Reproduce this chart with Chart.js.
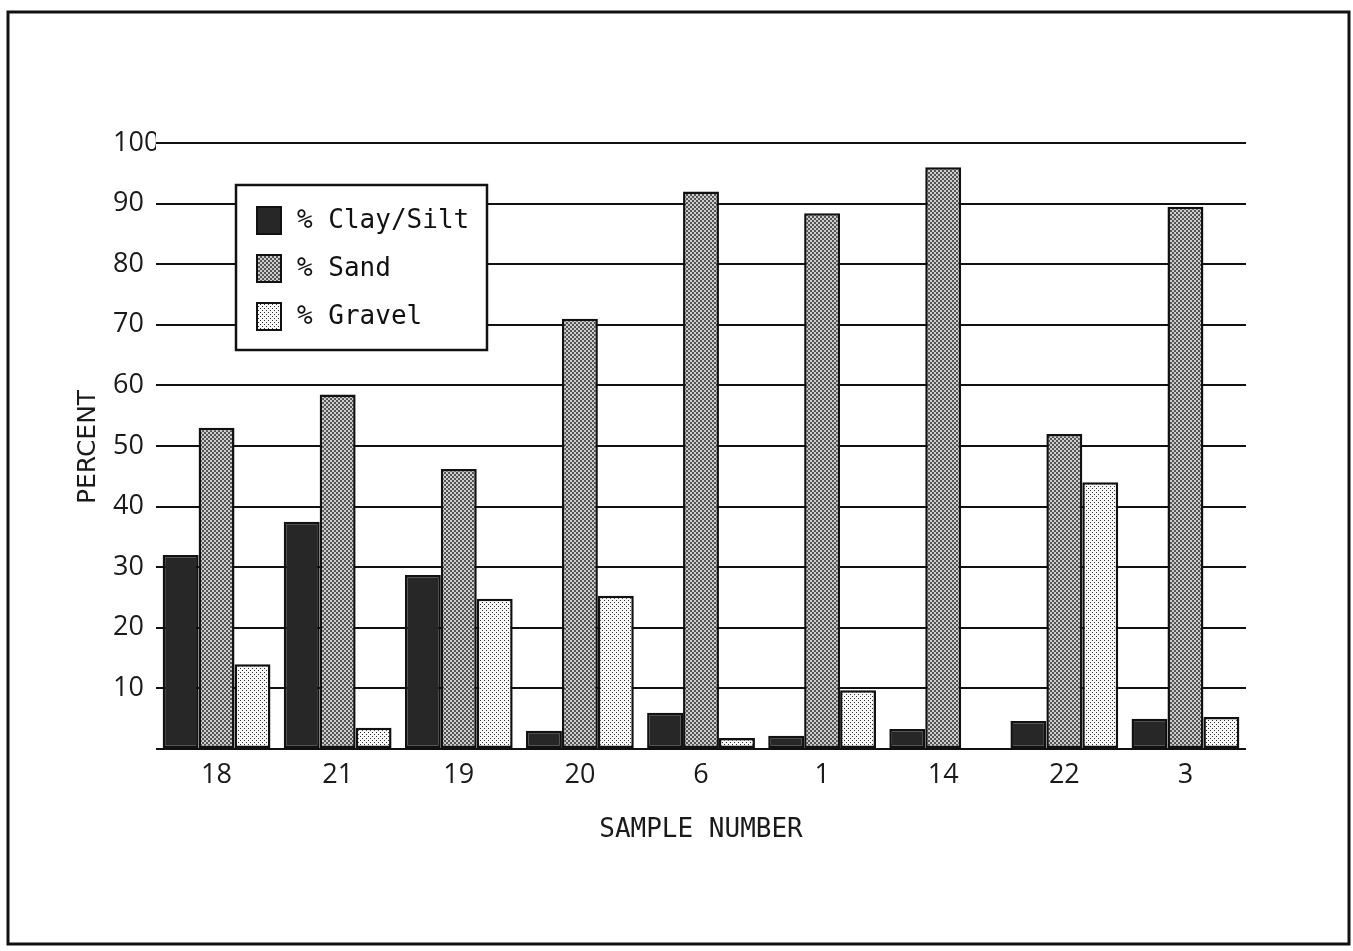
<!DOCTYPE html>
<html>
<head>
<meta charset="utf-8">
<script src="https://cdn.jsdelivr.net/npm/chart.js@4/dist/chart.umd.min.js"></script>
<style>
  body { margin: 0; background: #fff; }
  canvas { display: block; }
</style>
</head>
<body>
<canvas id="grainChart" width="1353" height="951"></canvas>
<script>
// sample numbers along the x axis
const samples = ["18", "21", "19", "20", "6", "1", "14", "22", "3"];

// percent of each fraction
const claySilt = [32, 37.5, 28.7, 3, 6, 2.2, 3.3, 4.6, 5];
const sand = [53, 58.5, 46.2, 71, 92, 88.4, 96, 52, 89.5];
const gravel = [14, 3.5, 24.8, 25.3, 1.8, 9.7, 0, 44, 5.3];

const yTicks = [0, 10, 20, 30, 40, 50, 60, 70, 80, 90, 100];

const legendLabels = ["% Clay/Silt", "% Sand", "% Gravel"];

// little tiles to mimic the screened fills of the printed figure
function makePattern(size, bg, ink, dots, dotSize) {
    const c = document.createElement("canvas");
    c.width = size;
    c.height = size;
    const g = c.getContext("2d");
    g.fillStyle = bg;
    g.fillRect(0, 0, size, size);
    g.fillStyle = ink;
    dots.forEach(d => g.fillRect(d[0], d[1], dotSize, dotSize));
    return g.createPattern(c, "repeat");
}

const ctx = document.getElementById("grainChart").getContext("2d");
const clayFill = "#272727";
const sandFill = makePattern(4, "#cdcdcd", "#555555", [[0, 0], [2, 2]], 2);
const gravelFill = makePattern(4, "#f8f8f8", "#2e2e2e", [[0, 0], [2, 2]], 1);
const fills = [clayFill, sandFill, gravelFill];

// legend box inside the plot, and the page frame and rotated y title
const extras = {
    id: "extras",
    afterDraw(chart) {
        const c = chart.ctx;
        c.save();

        // legend
        c.fillStyle = "#fff";
        c.fillRect(236, 185, 251, 165);
        c.lineWidth = 2.5;
        c.strokeStyle = "#111";
        c.strokeRect(236, 185, 251, 165);
        c.font = "26px 'DejaVu Sans Mono'";
        c.textBaseline = "middle";
        c.textAlign = "left";
        const rows = [220, 268, 316];
        legendLabels.forEach((txt, i) => {
            c.fillStyle = fills[i];
            c.fillRect(257, rows[i] - 13, 24, 27);
            c.lineWidth = 2;
            c.strokeStyle = "#111";
            c.strokeRect(257, rows[i] - 13, 24, 27);
            c.fillStyle = "#111";
            c.fillText(txt, 297, rows[i] + 1);
        });

        // y axis title
        c.translate(88, 447);
        c.rotate(-Math.PI / 2);
        c.font = "25px 'DejaVu Sans'";
        c.textAlign = "center";
        c.fillStyle = "#1a1a1a";
        c.fillText("PERCENT", 0, 0);
        c.restore();

        // scanned page frame
        c.save();
        c.lineWidth = 3;
        c.strokeStyle = "#111";
        c.strokeRect(8, 12, 1341, 932);
        c.restore();
    }
};

new Chart(ctx, {
    type: "bar",
    data: {
        labels: samples,
        datasets: [
            { label: legendLabels[0], data: claySilt, backgroundColor: clayFill },
            { label: legendLabels[1], data: sand, backgroundColor: sandFill },
            { label: legendLabels[2], data: gravel, backgroundColor: gravelFill }
        ].map(d => Object.assign(d, {
            borderColor: "#111",
            borderWidth: 2.5,
            borderSkipped: false,
            categoryPercentage: 0.89,
            barPercentage: 1.0
        }))
    },
    options: {
        responsive: false,
        animation: false,
        layout: { padding: { left: 113, top: 143, right: 107, bottom: 105 } },
        plugins: {
            legend: { display: false },
            tooltip: { enabled: false }
        },
        scales: {
            x: {
                grid: { display: false },
                border: { display: false },
                ticks: {
                    color: "#1a1a1a",
                    font: { family: "'Open Sans'", size: 27 },
                    padding: 2,
                    maxRotation: 0
                },
                title: {
                    display: true,
                    text: "SAMPLE NUMBER",
                    color: "#1a1a1a",
                    font: { family: "'DejaVu Sans Mono'", size: 26 },
                    padding: 0
                },
                afterFit(scale) { scale.height = 97; }
            },
            y: {
                min: 0,
                max: 100,
                afterBuildTicks(scale) { scale.ticks = yTicks.map(v => ({ value: v })); },
                grid: { color: "#111", lineWidth: 2, drawTicks: false },
                border: { display: false },
                ticks: {
                    crossAlign: "far",
                    color: "#1a1a1a",
                    font: { family: "'Open Sans'", size: 27 },
                    callback: v => (v === 0 ? "" : v)
                },
                afterFit(scale) { scale.width = 43; }
            }
        }
    },
    plugins: [extras]
});
</script>
</body>
</html>
